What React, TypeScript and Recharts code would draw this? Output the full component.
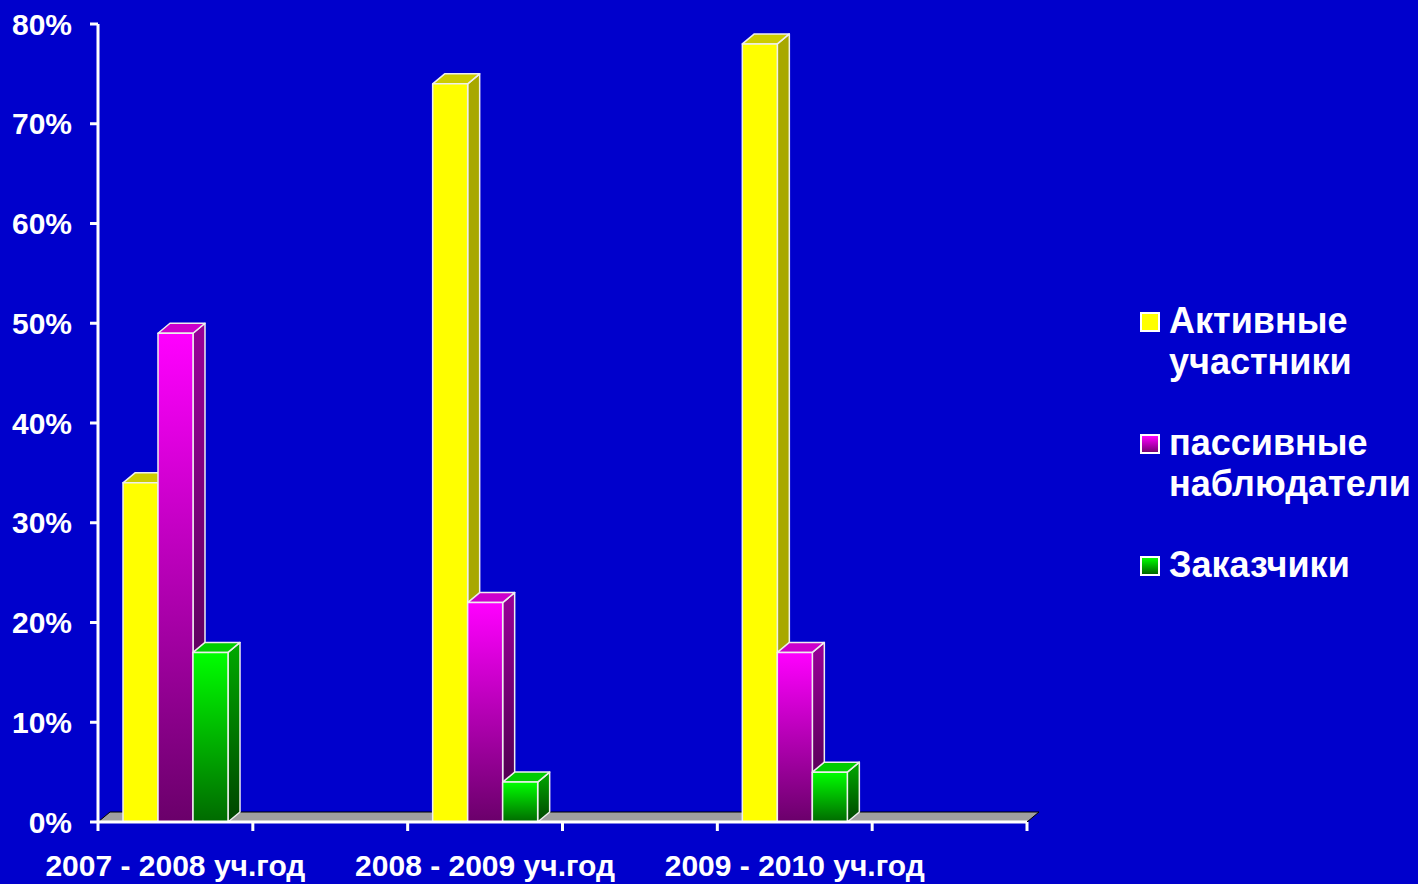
import React from "react";
import {
  BarChart,
  Bar,
  XAxis,
  YAxis,
  Legend,
  CartesianGrid,
} from "recharts";

// six slots on the x axis, every second one is an empty spacer (as in the source slide)
const categories = ["2007 - 2008 уч.год", "", "2008 - 2009 уч.год", "", "2009 - 2010 уч.год", ""];
const active = [34, null, 74, null, 78, null];
const passive = [49, null, 22, null, 17, null];
const clients = [17, null, 4, null, 5, null];
const seriesNames = ["Активные участники", "пассивные наблюдатели", "Заказчики"];
const yTicks = [0, 10, 20, 30, 40, 50, 60, 70, 80];

const data = categories.map((name, i) => ({
  name,
  active: active[i],
  passive: passive[i],
  clients: clients[i],
}));

const W = 1418;
const H = 884;
const M = { top: 24, right: 391, bottom: 0, left: 0 };
const Y_W = 98;
const X_H = 62;
const PLOT_W = W - M.left - M.right - Y_W;
const BAND = PLOT_W / categories.length;
const DX = 12;
const DY = 10;
const FONT = "'Liberation Sans', Arial, sans-serif";
const BG = "#0000CC";

const palette = [
  { front: "#FFFF00", side: "#A8A800", top: "#CCCC00", legend: "#FFFF00" },
  { front: "url(#fMag)", side: "url(#sMag)", top: "#CC00CC", legend: "linear-gradient(#FF00FF, #770077)" },
  { front: "url(#fGrn)", side: "url(#sGrn)", top: "#00CC00", legend: "linear-gradient(#00FF00, #006600)" },
];

const boxShape = (si: number) => (props: any) => {
  const { x, y, width, height, value } = props;
  if (value == null || height == null || isNaN(height)) return null;
  const c = palette[si];
  const w = width;
  const h = height;
  const edge = { stroke: "#EEEEEE", strokeWidth: 1.5, strokeLinejoin: "round" as const };
  return (
    <g>
      <polygon
        points={`${x + w},${y} ${x + w + DX},${y - DY} ${x + w + DX},${y + h - DY} ${x + w},${y + h}`}
        fill={c.side}
        {...edge}
      />
      <polygon
        points={`${x},${y} ${x + DX},${y - DY} ${x + w + DX},${y - DY} ${x + w},${y}`}
        fill={c.top}
        {...edge}
      />
      <rect x={x} y={y} width={w} height={h} fill={c.front} {...edge} />
    </g>
  );
};

// grey 3d floor drawn on the grid line at 0%
const Floor = (props: any) => {
  const { x1, y1, x2 } = props;
  return (
    <polygon
      points={`${x1},${y1} ${x1 + DX},${y1 - DY} ${x2 + DX},${y1 - DY} ${x2},${y1}`}
      fill="#A0A0A0"
      stroke="#000000"
      strokeWidth={1}
    />
  );
};

const XTick = (props: any) => {
  const { x, y, payload, index } = props;
  const left = x - BAND / 2;
  return (
    <g>
      <line x1={left} y1={y} x2={left} y2={y + 9} stroke="#FFFFFF" strokeWidth={3} />
      {index === categories.length - 1 && (
        <line x1={x + BAND / 2} y1={y} x2={x + BAND / 2} y2={y + 9} stroke="#FFFFFF" strokeWidth={3} />
      )}
      <text
        x={x}
        y={y + 54}
        textAnchor="middle"
        fill="#FFFFFF"
        fontSize={30}
        fontWeight="bold"
        fontFamily={FONT}
      >
        {payload.value}
      </text>
    </g>
  );
};

const LegendBox = () => (
  <div style={{ fontFamily: FONT, fontWeight: "bold", fontSize: 36, lineHeight: "41px", color: "#FFFFFF" }}>
    {seriesNames.map((name, i) => (
      <div key={i} style={{ display: "flex", alignItems: "flex-start", marginBottom: 40 }}>
        <div
          style={{
            width: 16,
            height: 16,
            marginTop: 12,
            marginRight: 9,
            border: "2px solid #FFFFFF",
            background: palette[i].legend,
            flex: "none",
          }}
        />
        <div>
          {name.split(" ").map((ln, k) => (
            <div key={k}>{ln}</div>
          ))}
        </div>
      </div>
    ))}
  </div>
);

export default function App() {
  return (
    <div style={{ position: "absolute", left: 0, top: 0, width: W, height: H, background: BG }}>
      <BarChart width={W} height={H} data={data} margin={M} barGap={0} barSize={35}>
        <defs>
          <linearGradient id="fMag" x1="0" y1="0" x2="0" y2="1">
            <stop offset="0%" stopColor="#FF00FF" />
            <stop offset="100%" stopColor="#6A006A" />
          </linearGradient>
          <linearGradient id="sMag" x1="0" y1="0" x2="0" y2="1">
            <stop offset="0%" stopColor="#990099" />
            <stop offset="100%" stopColor="#440044" />
          </linearGradient>
          <linearGradient id="fGrn" x1="0" y1="0" x2="0" y2="1">
            <stop offset="0%" stopColor="#00FF00" />
            <stop offset="100%" stopColor="#006A00" />
          </linearGradient>
          <linearGradient id="sGrn" x1="0" y1="0" x2="0" y2="1">
            <stop offset="0%" stopColor="#00AA00" />
            <stop offset="100%" stopColor="#004400" />
          </linearGradient>
        </defs>
        <CartesianGrid
          vertical={false}
          horizontalValues={[0]}
          horizontal={(p: any) => <Floor key={p.key ?? "floor"} {...p} />}
        />
        <XAxis
          dataKey="name"
          height={X_H}
          interval={0}
          tickSize={0}
          tickMargin={0}
          axisLine={{ stroke: "#FFFFFF", strokeWidth: 3 }}
          tick={<XTick />}
        />
        <YAxis
          width={Y_W}
          domain={[0, 80]}
          ticks={yTicks}
          interval={0}
          tickFormatter={(v) => `${v}%`}
          axisLine={{ stroke: "#FFFFFF", strokeWidth: 3 }}
          tickLine={{ stroke: "#FFFFFF", strokeWidth: 3 }}
          tickSize={8}
          tickMargin={18}
          tick={{ fill: "#FFFFFF", fontSize: 30, fontWeight: "bold", fontFamily: FONT }}
        />
        <Legend
          layout="vertical"
          align="center"
          verticalAlign="middle"
          wrapperStyle={{ left: 1140, top: 300, width: 278 }}
          content={<LegendBox />}
        />
        <Bar dataKey="active" name={seriesNames[0]} fill="#FFFF00" shape={boxShape(0)} isAnimationActive={false} />
        <Bar dataKey="passive" name={seriesNames[1]} fill="#FF00FF" shape={boxShape(1)} isAnimationActive={false} />
        <Bar dataKey="clients" name={seriesNames[2]} fill="#00FF00" shape={boxShape(2)} isAnimationActive={false} />
      </BarChart>
    </div>
  );
}
